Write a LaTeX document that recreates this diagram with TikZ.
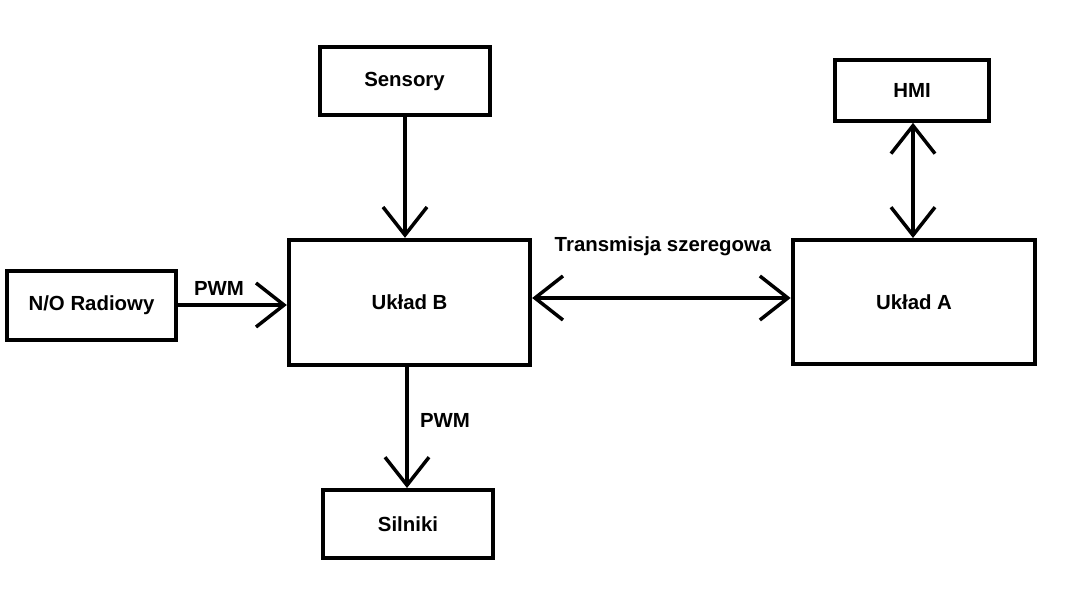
\documentclass[tikz,border=0pt]{standalone}
\usepackage{fontspec}
\setmainfont{Liberation Sans}
\usetikzlibrary{arrows.meta}
\begin{document}
\begin{tikzpicture}[x=0.75pt,y=-0.75pt,
  blk/.style={draw, line width=3pt, minimum width=#1, inner sep=0pt, font=\bfseries\fontsize{15.3}{18}\selectfont},
  lbl/.style={font=\bfseries\fontsize{15.3}{18}\selectfont, inner sep=0pt},
  conn/.style={line width=2.6pt, -{Straight Barb[length=21pt,width=33pt,line width=2.6pt]}},
  conn2/.style={line width=2.6pt, {Straight Barb[length=21pt,width=33pt,line width=2.6pt]}-{Straight Barb[length=21pt,width=33pt,line width=2.6pt]}}]
\useasboundingbox (0,0) rectangle (1074,598);
\node[blk=127.5pt, minimum height=51pt] (sens) at (404.5,81) {Sensory};
\node[blk=116pt, minimum height=45.5pt] (hmi) at (912,90.5) {HMI};
\node[blk=181pt, minimum height=94pt] (ub) at (409.5,302.5) {Układ B};
\node[blk=182pt, minimum height=93pt] (ua) at (914,302) {Układ A};
\node[blk=127pt, minimum height=51.5pt] (no) at (91.5,305.5) {N/O Radiowy};
\node[blk=128pt, minimum height=51pt] (sil) at (408,524) {Silniki};
\draw[conn] (sens.south -| 405,0) -- (ub.north -| 405,0);
\draw[conn] (no.east |- 0,305) -- (ub.west |- 0,305);
\draw[conn2] (ub.east |- 0,298) -- (ua.west |- 0,298);
\draw[conn2] (hmi.south -| 913,0) -- (ua.north -| 913,0);
\draw[conn] (ub.south -| 407,0) -- (sil.north -| 407,0);
\node[lbl] (l1) at (219,288) {PWM};
\node[lbl] (l2) at (445,420) {PWM};
\node[lbl] (l3) at (663,246) {Transmisja szeregowa};
\end{tikzpicture}
\end{document}
